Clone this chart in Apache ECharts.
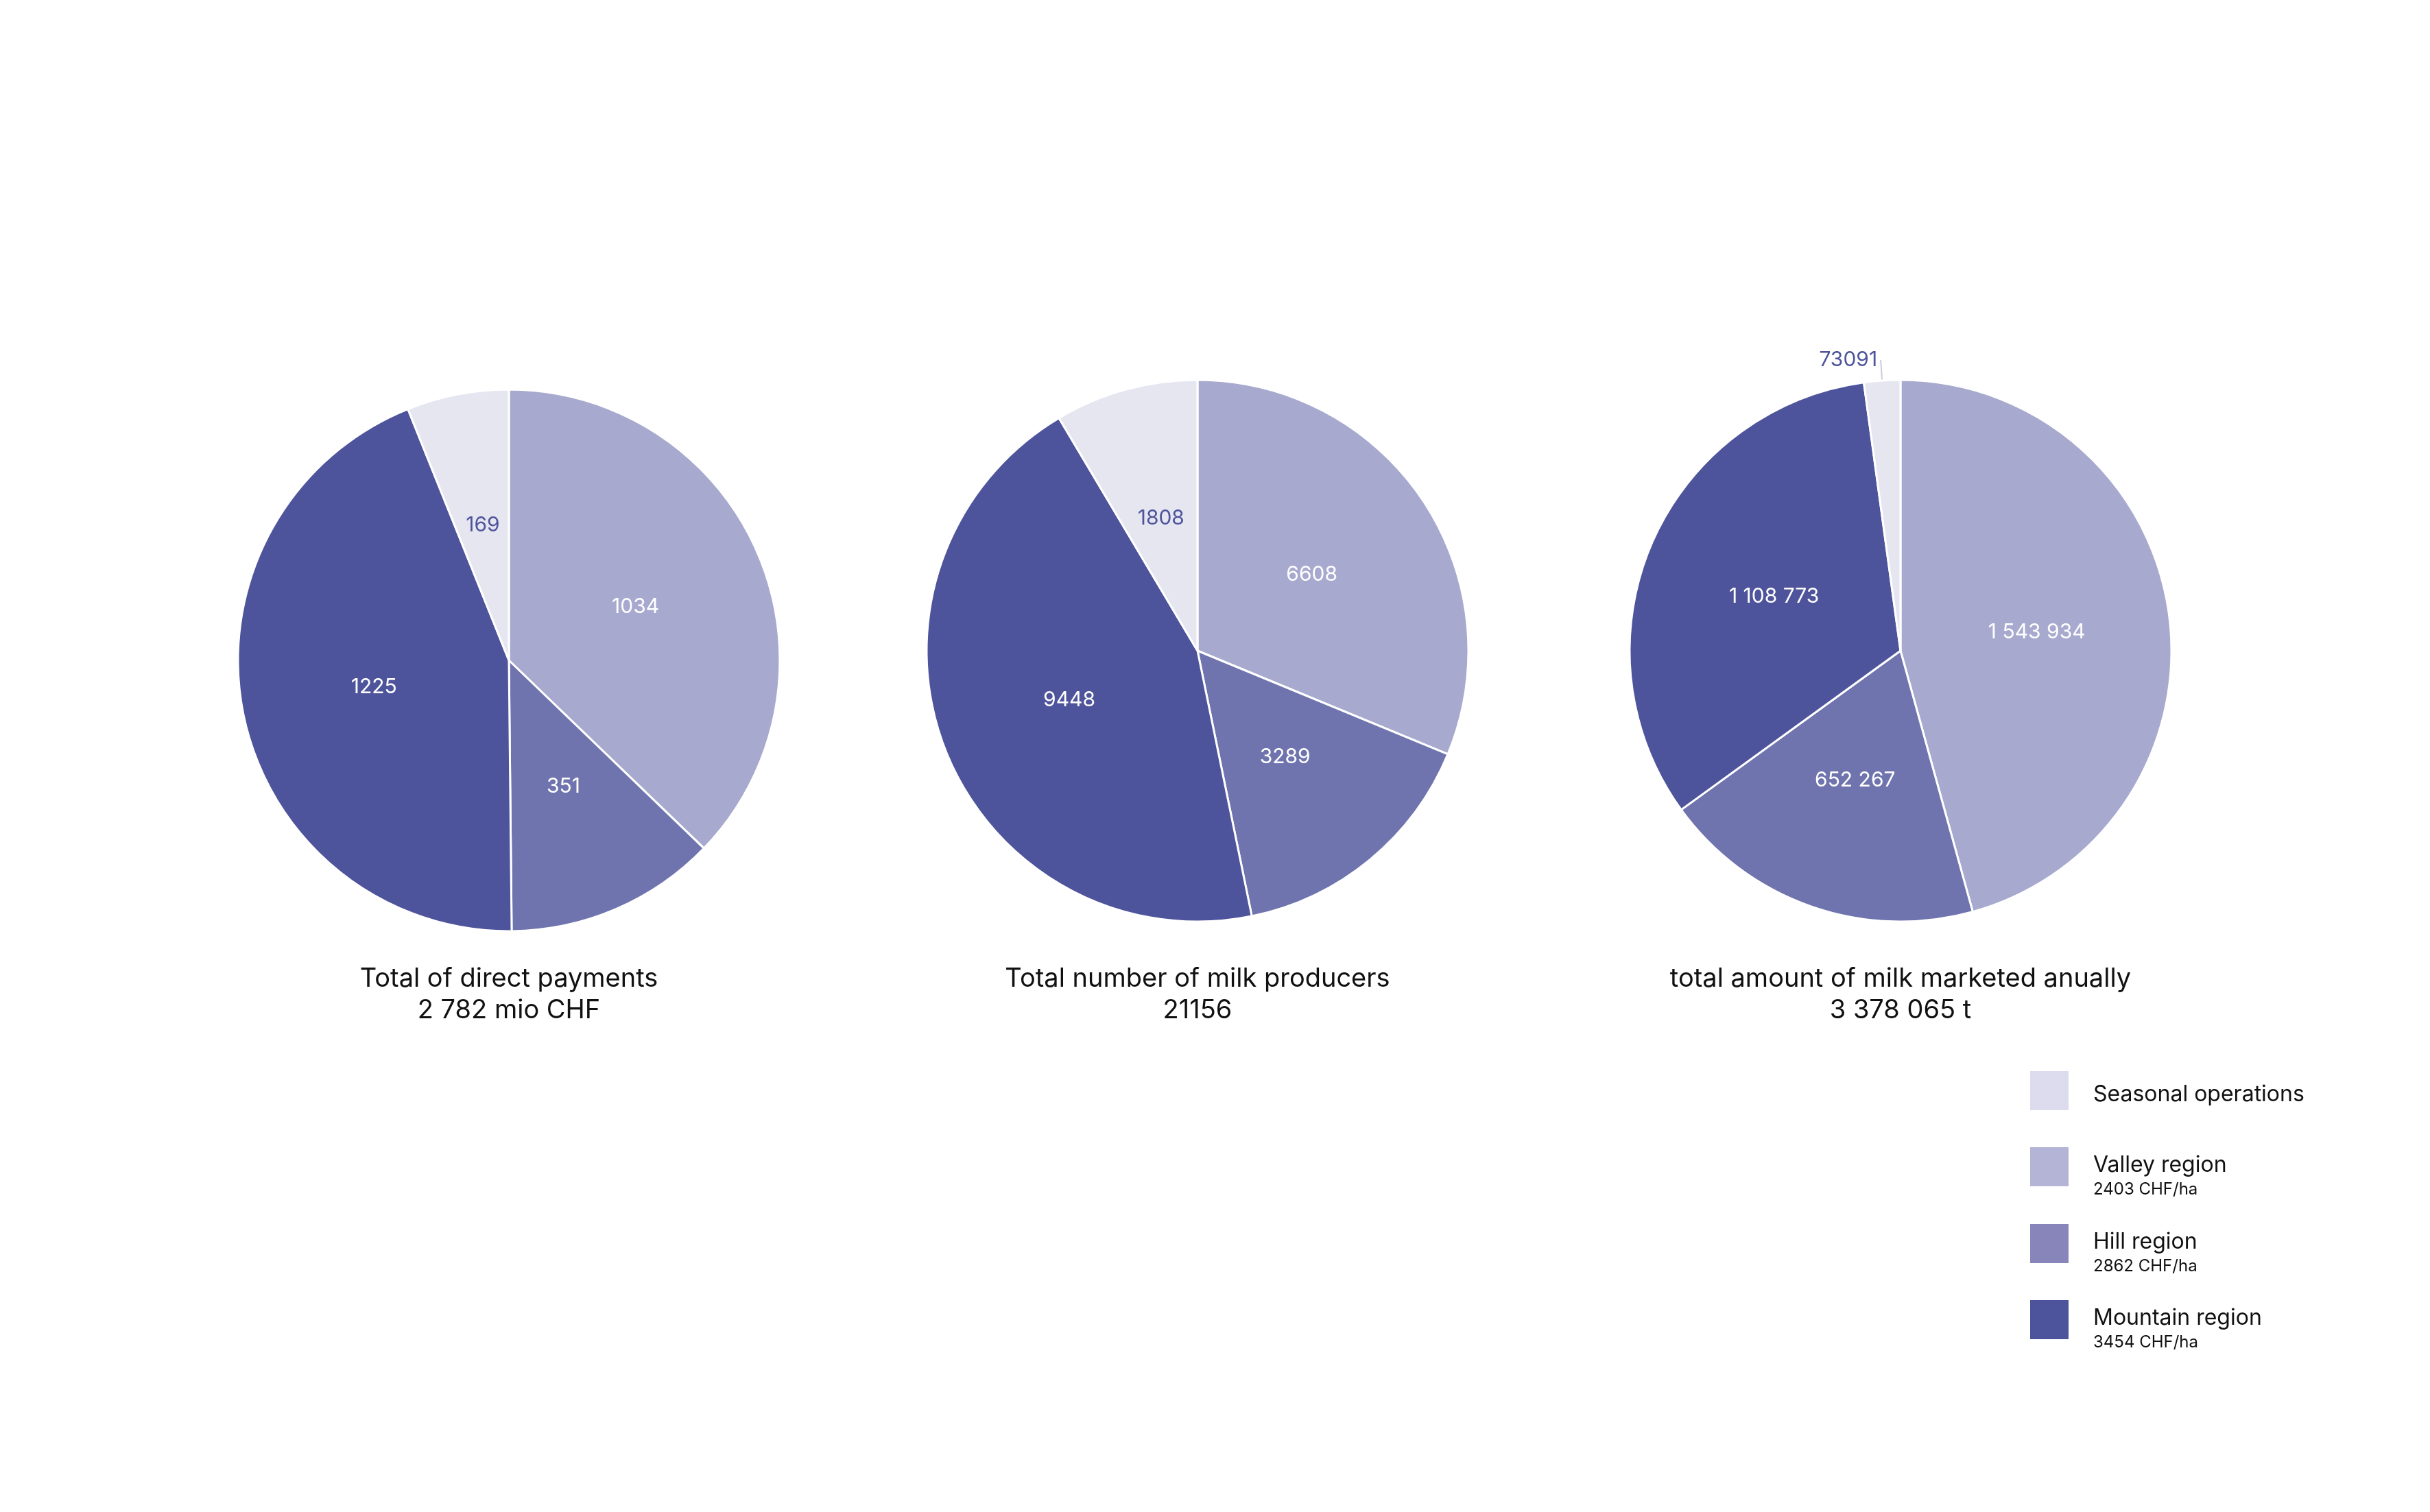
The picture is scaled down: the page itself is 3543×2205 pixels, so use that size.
<!DOCTYPE html>
<html>
<head>
<meta charset="utf-8">
<title>Milk</title>
<script src="https://cdn.jsdelivr.net/npm/echarts@6/dist/echarts.min.js"></script>
<style>html,body{margin:0;background:#fff}</style>
</head>
<body>
<div id="main" style="width:3543px;height:2205px;"></div>
<script>
var categories = ['Valley region', 'Hill region', 'Mountain region', 'Seasonal operations'];
var colors = ['#a7a9ce', '#6f74ae', '#4e549b', '#e6e6f1'];
var payments = [1034, 351, 1225, 169];
var producers = [6608, 3289, 9448, 1808];
var milk = [1543934, 652267, 1108773, 73091];
var titles = ['Total of direct payments\n2 782 mio CHF', 'Total number of milk producers\n21156', 'total amount of milk marketed anually\n3 378 065 t'];
var legendNames = ['Seasonal operations', 'Valley region', 'Hill region', 'Mountain region'];
var legendSubs = ['', '2403 CHF/ha', '2862 CHF/ha', '3454 CHF/ha'];
var legendColors = ['#dddcee', '#b4b4d6', '#8785b9', '#4e549b'];

var font = 'Inter, "Noto Sans", sans-serif';
function fmt(v) { return v >= 10000 && v !== 73091 ? String(v).replace(/\B(?=(\d{3})+(?!\d))/g, ' ') : String(v); }

function makePie(values, cx, outsideSmall) {
  return {
    type: 'pie', center: [cx, 963], radius: 395, startAngle: 90, clockwise: true,
    animation: false, silent: true,
    itemStyle: { borderColor: '#fff', borderWidth: 3 },
    label: { position: 'inside', color: '#fff', fontSize: 30, fontFamily: font, formatter: function (p) { return fmt(p.value); } },
    data: values.map(function (v, i) {
      var d = { name: categories[i], value: v, itemStyle: { color: colors[i] } };
      if (i === 3) {
        d.label = outsideSmall
          ? { position: 'outside', color: '#4e549b', distance: 10 }
          : { color: '#4e549b' };
        d.labelLine = { show: outsideSmall, length: 30, length2: 0, lineStyle: { color: '#ccccdd', width: 2 } };
      }
      return d;
    })
  };
}

var centers = [742, 1746, 2771];
var graphics = [];
titles.forEach(function (t, i) {
  graphics.push({ type: 'text', x: centers[i], y: 1405, style: { text: t, fill: '#111', font: '38px ' + font, textAlign: 'center', lineHeight: 46 } });
});
var legendY = [1562, 1673, 1785, 1896];
legendNames.forEach(function (n, i) {
  graphics.push({ type: 'rect', shape: { x: 2960, y: legendY[i], width: 56, height: 57 }, style: { fill: legendColors[i] } });
  graphics.push({ type: 'text', x: 3052, y: legendY[i] + (legendSubs[i] ? 10 : 18), style: { text: n, fill: '#111', font: '32px ' + font } });
  if (legendSubs[i]) graphics.push({ type: 'text', x: 3052, y: legendY[i] + 50, style: { text: legendSubs[i], fill: '#111', font: '24px ' + font } });
});

var chart = echarts.init(document.getElementById('main'));
chart.setOption({
  backgroundColor: '#fff',
  graphic: graphics,
  series: [
    makePie(payments, centers[0], false),
    Object.assign(makePie(producers, centers[1], false), { center: [centers[1], 949] }),
    Object.assign(makePie(milk, centers[2], true), { center: [centers[2], 949] })
  ]
});
</script>
</body>
</html>
